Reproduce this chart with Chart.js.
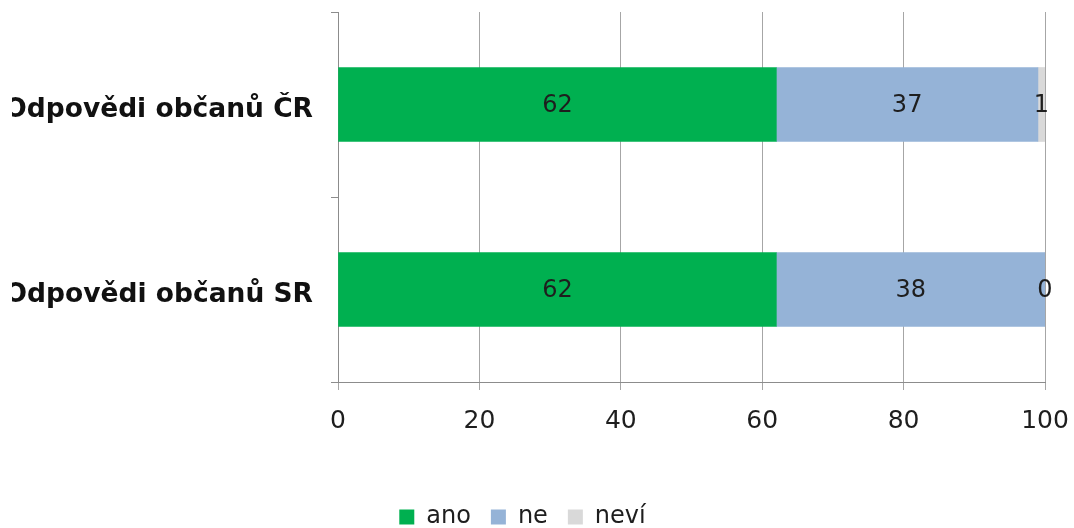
<!DOCTYPE html>
<html>
<head>
<meta charset="utf-8">
<script src="https://cdn.jsdelivr.net/npm/chart.js@4"></script>
<style>
    html, body { margin: 0; padding: 0; background: #fff; overflow: hidden; }
    /* the original image is cropped: left of the first letter and a bit of the bottom are cut off */
    #clip { position: absolute; left: 12px; top: 0; width: 1062px; height: 528px; overflow: hidden; }
    #chart { position: absolute; left: -12px; top: 0; }
</style>
</head>
<body>
<div id="clip"><canvas id="chart" width="1074" height="539"></canvas></div>
<script>
// --- data ---
const categories = ['Odpovědi občanů ČR', 'Odpovědi občanů SR'];
const seriesNames = ['ano', 'ne', 'neví'];
const anoValues = [62, 62];
const neValues = [37, 38];
const neviValues = [1, 0];
const xTicks = [0, 20, 40, 60, 80, 100];

const colors = ['#00B050', '#95B3D7', '#D9D9D9'];
const gridColor = '#a6a6a6';
const textColor = '#1e1e1e';
const fontFamily = "'DejaVu Sans', Verdana, sans-serif";

// draws the value in the middle of each bar segment
const barValueLabels = {
    id: 'barValueLabels',
    afterDatasetsDraw(chart) {
        const ctx = chart.ctx;
        ctx.save();
        ctx.font = '24px ' + fontFamily;
        ctx.fillStyle = textColor;
        ctx.textAlign = 'center';
        ctx.textBaseline = 'middle';
        chart.data.datasets.forEach((ds, i) => {
            const meta = chart.getDatasetMeta(i);
            meta.data.forEach((bar, j) => {
                const { x, y, base } = bar.getProps(['x', 'y', 'base'], true);
                ctx.fillText(String(ds.data[j]), (x + base) / 2, y + 1);
            });
        });
        ctx.restore();
    }
};

const seriesValues = [anoValues, neValues, neviValues];

new Chart(document.getElementById('chart').getContext('2d'), {
    type: 'bar',
    data: {
        labels: categories,
        datasets: seriesNames.map((name, i) => ({
            label: name,
            data: seriesValues[i],
            backgroundColor: colors[i],
            borderWidth: 0,
            barThickness: 74
        }))
    },
    options: {
        indexAxis: 'y',
        responsive: false,
        animation: false,
        layout: { padding: { top: 12, right: 29, left: 0, bottom: 0 } },
        scales: {
            x: {
                stacked: true,
                min: 0, max: 100,
                afterBuildTicks: scale => { scale.ticks = xTicks.map(v => ({ value: v })); },
                afterFit: scale => {
                    scale.height = 103;
                    scale.paddingLeft = 0;
                    scale.paddingRight = 0;
                },
                grid: { color: gridColor, tickLength: 8 },
                border: { color: '#8c8c8c' },
                ticks: { color: textColor, padding: 16, font: { family: fontFamily, size: 25 } }
            },
            y: {
                stacked: true,
                afterFit: scale => {
                    scale.width = 338;
                    scale.paddingTop = 0;
                    scale.paddingBottom = 0;
                },
                grid: { drawOnChartArea: false, offset: true, color: '#8c8c8c', tickLength: 7 },
                border: { color: '#8c8c8c' },
                ticks: {
                    color: '#111',
                    padding: 18,
                    labelOffset: 6,
                    font: { family: fontFamily, size: 26.5, weight: 'bold' }
                }
            }
        },
        plugins: {
            legend: {
                position: 'bottom',
                labels: {
                    color: textColor,
                    boxWidth: 15,
                    boxHeight: 15,
                    padding: 20,
                    font: { family: fontFamily, size: 24 }
                }
            },
            tooltip: { enabled: false }
        }
    },
    plugins: [barValueLabels]
});
</script>
</body>
</html>
